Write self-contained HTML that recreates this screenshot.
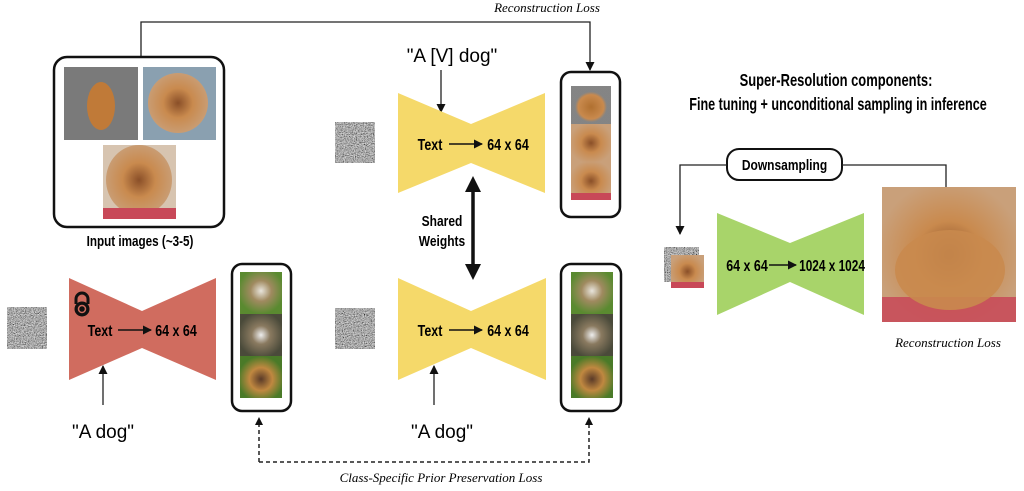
<!DOCTYPE html>
<html><head><meta charset="utf-8"><style>
html,body{margin:0;padding:0;background:#fff;}
svg{display:block;}
.b{font-family:"Liberation Sans",sans-serif;font-weight:bold;}
.i{font-family:"Liberation Serif",serif;font-style:italic;}
.h{font-family:"Liberation Sans",sans-serif;}
</style></head><body>
<svg width="1024" height="491" viewBox="0 0 1024 491" xmlns="http://www.w3.org/2000/svg">
<defs>
<filter id="nz" x="0" y="0" width="100%" height="100%">
<feTurbulence type="fractalNoise" baseFrequency="0.9" numOctaves="2" seed="3"/>
<feColorMatrix type="saturate" values="0"/>
<feComponentTransfer><feFuncR type="linear" slope="1.6" intercept="-0.4"/><feFuncG type="linear" slope="1.6" intercept="-0.4"/><feFuncB type="linear" slope="1.6" intercept="-0.4"/><feFuncA type="linear" slope="0" intercept="1"/></feComponentTransfer>
</filter>
<marker id="ar" markerWidth="9" markerHeight="9" refX="8" refY="4.5" orient="auto" markerUnits="userSpaceOnUse"><path d="M0,0 L9,4.5 L0,9 z" fill="#111"/></marker>
<radialGradient id="dog" cx="50%" cy="50%" r="55%"><stop offset="0" stop-color="#8a4f28"/><stop offset="0.45" stop-color="#c98a4e"/><stop offset="1" stop-color="#c9a07a"/></radialGradient>
<radialGradient id="dogg" cx="50%" cy="55%" r="40%"><stop offset="0" stop-color="#b07030"/><stop offset="0.8" stop-color="#c98a4e"/><stop offset="1" stop-color="#777" stop-opacity="0.9"/></radialGradient>
<radialGradient id="grass" cx="50%" cy="45%" r="55%"><stop offset="0" stop-color="#e8e4dc"/><stop offset="0.45" stop-color="#a08a60"/><stop offset="1" stop-color="#5a8a30"/></radialGradient>
<radialGradient id="grass2" cx="50%" cy="50%" r="55%"><stop offset="0" stop-color="#eeeeee"/><stop offset="0.4" stop-color="#8a7a60"/><stop offset="1" stop-color="#4a4a3a"/></radialGradient>
<radialGradient id="grass3" cx="50%" cy="55%" r="55%"><stop offset="0" stop-color="#5a3a28"/><stop offset="0.5" stop-color="#c08840"/><stop offset="1" stop-color="#4a7a28"/></radialGradient>
</defs>

<text x="547" y="12" class="i" font-size="13" text-anchor="middle">Reconstruction Loss</text>
<path d="M141,57 V22 H590 V70" fill="none" stroke="#222" stroke-width="1.3" marker-end="url(#ar)"/>

<rect x="54" y="57" width="170" height="170" rx="13" fill="#fff" stroke="#111" stroke-width="2.5"/>
<rect x="64" y="67" width="74" height="73" fill="#7a7a7a"/>
<ellipse cx="101" cy="106" rx="14" ry="24" fill="#c07a38"/>
<rect x="143" y="67" width="73" height="73" fill="#8aa0b0"/>
<ellipse cx="178" cy="103" rx="30" ry="30" fill="url(#dog)"/>
<rect x="103" y="145" width="73" height="74" fill="#d7c4b0"/>
<ellipse cx="139" cy="180" rx="33" ry="35" fill="url(#dog)"/>
<rect x="103" y="208" width="73" height="11" fill="#c84858"/>
<g transform="translate(140,246) scale(0.78,1)"><text class="b" font-size="15" text-anchor="middle">Input images (~3-5)</text></g>

<text x="452" y="62" class="h" font-size="19" text-anchor="middle">"A [V] dog"</text>
<line x1="441" y1="70" x2="441" y2="112" stroke="#222" stroke-width="1.3" marker-end="url(#ar)"/>
<rect x="335" y="122" width="40" height="41" filter="url(#nz)"/>
<polygon points="398,93 471,124 545,93 545,193 471,163 398,193" fill="#f5d96a"/>
<g transform="translate(430,150) scale(0.78,1)"><text class="b" font-size="16" text-anchor="middle">Text</text></g>
<line x1="449" y1="144" x2="482" y2="144" stroke="#111" stroke-width="1.5" marker-end="url(#ar)"/>
<g transform="translate(508,150) scale(0.78,1)"><text class="b" font-size="16" text-anchor="middle">64 x 64</text></g>

<rect x="561" y="72" width="59" height="145" rx="10" fill="#fff" stroke="#111" stroke-width="2.5"/>
<rect x="571" y="86" width="40" height="38" fill="url(#dogg)"/>
<rect x="571" y="124" width="40" height="38" fill="url(#dog)"/>
<rect x="571" y="162" width="40" height="38" fill="url(#dog)"/>
<rect x="571" y="193" width="40" height="7" fill="#c84858"/>

<g transform="translate(442,226) scale(0.8,1)"><text class="b" font-size="15" text-anchor="middle">Shared</text></g>
<g transform="translate(442,246) scale(0.8,1)"><text class="b" font-size="15" text-anchor="middle">Weights</text></g>
<line x1="473" y1="190" x2="473" y2="265" stroke="#111" stroke-width="3.5"/>
<path d="M465,192 L473,176 L481,192 z" fill="#111"/>
<path d="M465,264 L473,280 L481,264 z" fill="#111"/>

<rect x="7" y="307" width="40" height="42" filter="url(#nz)"/>
<polygon points="69,278 142,311 216,278 216,380 142,348 69,380" fill="#d06c5f"/>
<g transform="translate(82,306)"><path d="M-6,-2 V-7 A6,6 0 0 1 6,-7 V-2" fill="none" stroke="#111" stroke-width="3"/><circle cx="0" cy="3" r="7.5" fill="#111"/><circle cx="0" cy="3" r="3.5" fill="none" stroke="#d06c5f" stroke-width="1.5"/></g>
<g transform="translate(100,336) scale(0.78,1)"><text class="b" font-size="16" text-anchor="middle">Text</text></g>
<line x1="118" y1="330" x2="151" y2="330" stroke="#111" stroke-width="1.5" marker-end="url(#ar)"/>
<g transform="translate(176,336) scale(0.78,1)"><text class="b" font-size="16" text-anchor="middle">64 x 64</text></g>
<line x1="103" y1="405" x2="103" y2="366" stroke="#222" stroke-width="1.3" marker-end="url(#ar)"/>
<text x="103" y="438" class="h" font-size="19" text-anchor="middle">"A dog"</text>

<rect x="232" y="264" width="59" height="147" rx="10" fill="#fff" stroke="#111" stroke-width="2.5"/>
<rect x="240" y="272" width="42" height="42" fill="url(#grass)"/>
<rect x="240" y="314" width="42" height="42" fill="url(#grass2)"/>
<rect x="240" y="356" width="42" height="42" fill="url(#grass3)"/>

<rect x="335" y="308" width="40" height="41" filter="url(#nz)"/>
<polygon points="398,278 471,311 546,278 546,380 471,348 398,380" fill="#f5d96a"/>
<g transform="translate(430,336) scale(0.78,1)"><text class="b" font-size="16" text-anchor="middle">Text</text></g>
<line x1="449" y1="330" x2="482" y2="330" stroke="#111" stroke-width="1.5" marker-end="url(#ar)"/>
<g transform="translate(508,336) scale(0.78,1)"><text class="b" font-size="16" text-anchor="middle">64 x 64</text></g>
<line x1="434" y1="405" x2="434" y2="366" stroke="#222" stroke-width="1.3" marker-end="url(#ar)"/>
<text x="442" y="438" class="h" font-size="19" text-anchor="middle">"A dog"</text>

<rect x="561" y="264" width="60" height="147" rx="10" fill="#fff" stroke="#111" stroke-width="2.5"/>
<rect x="571" y="272" width="42" height="42" fill="url(#grass)"/>
<rect x="571" y="314" width="42" height="42" fill="url(#grass2)"/>
<rect x="571" y="356" width="42" height="42" fill="url(#grass3)"/>

<path d="M259,462 V424 M259,462 H589 V424" fill="none" stroke="#222" stroke-width="1.5" stroke-dasharray="4,3"/>
<path d="M255,425 L259,417 L263,425 z M585,425 L589,417 L593,425 z" fill="#111"/>
<text x="441" y="482" class="i" font-size="13" text-anchor="middle">Class-Specific Prior Preservation Loss</text>

<g transform="translate(836,86) scale(0.72,1)"><text class="b" font-size="18" text-anchor="middle">Super-Resolution components:</text></g>
<g transform="translate(838,110) scale(0.7,1)"><text class="b" font-size="18" text-anchor="middle">Fine tuning + unconditional sampling in inference</text></g>
<rect x="727" y="149" width="115" height="31" rx="12" fill="#fff" stroke="#111" stroke-width="2"/>
<g transform="translate(784.5,170) scale(0.8,1)"><text class="b" font-size="15" text-anchor="middle">Downsampling</text></g>
<path d="M727,165 H680 V234" fill="none" stroke="#222" stroke-width="1.3" marker-end="url(#ar)"/>
<path d="M842,165 H946 V187" fill="none" stroke="#222" stroke-width="1.3"/>
<rect x="664" y="247" width="35" height="35" filter="url(#nz)"/>
<rect x="671" y="255" width="33" height="33" fill="url(#dog)"/>
<rect x="671" y="282" width="33" height="6" fill="#c84858"/>
<polygon points="717,213 790,243 864,213 864,315 790,282 717,315" fill="#a8d46a"/>
<g transform="translate(747,271) scale(0.78,1)"><text class="b" font-size="16" text-anchor="middle">64 x 64</text></g>
<line x1="769" y1="265" x2="796" y2="265" stroke="#111" stroke-width="1.5" marker-end="url(#ar)"/>
<g transform="translate(832,271) scale(0.74,1)"><text class="b" font-size="16" text-anchor="middle">1024 x 1024</text></g>
<rect x="882" y="187" width="134" height="135" fill="#d8d0c4"/>
<rect x="882" y="187" width="134" height="135" fill="url(#dog)"/>
<rect x="882" y="297" width="134" height="25" fill="#c84858" opacity="0.85"/>
<ellipse cx="950" cy="270" rx="55" ry="40" fill="#c98a4e" opacity="0.9"/>
<text x="948" y="347" class="i" font-size="13" text-anchor="middle">Reconstruction Loss</text>
</svg>
</body></html>
